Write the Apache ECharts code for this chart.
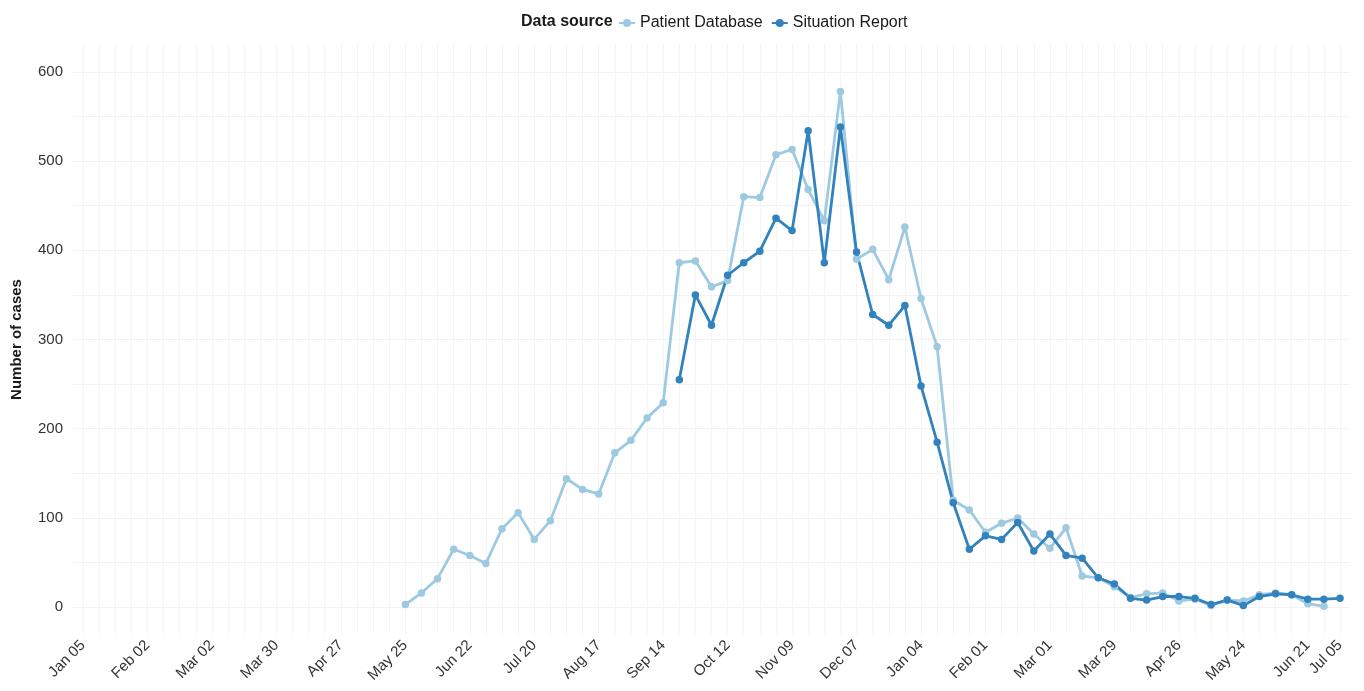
<!DOCTYPE html>
<html>
<head>
<meta charset="utf-8">
<script src="https://cdn.jsdelivr.net/npm/echarts@6/dist/echarts.min.js"></script>
<style>
html,body{margin:0;padding:0;background:#fff;}
#chart{width:1364px;height:691px;}
</style>
</head>
<body>
<div id="chart"></div>
<script>
// Weeks are counted from Sunday 2014-01-05 (week 0) to 2015-07-05 (week 78)
const weekCount = 79;
const tickWeeks = [0,4,8,12,16,20,24,28,32,36,40,44,48,52,56,60,64,68,72,76,78];
const tickLabels = ['Jan 05','Feb 02','Mar 02','Mar 30','Apr 27','May 25','Jun 22','Jul 20','Aug 17','Sep 14','Oct 12','Nov 09','Dec 07','Jan 04','Feb 01','Mar 01','Mar 29','Apr 26','May 24','Jun 21','Jul 05'];
const yTicks = [0,50,100,150,200,250,300,350,400,450,500,550,600];
const yLabels = [0,100,200,300,400,500,600];

// Patient Database: weekly counts starting at week 20 (May 25, 2014)
const patientStart = 20;
const patientDatabase = [3,16,32,65,58,49,88,106,76,97,144,132,127,173,187,212,229,
  386,388,359,366,460,459,507,513,468,433,578,390,401,367,426,346,292,
  120,109,84,94,100,82,66,89,35,33,23,11,15,16,7,9,2,8,7,14,16,14,4,1];

// Situation Report: weekly counts starting at week 37 (Sep 21, 2014)
const sitrepStart = 37;
const situationReport = [255,350,316,372,386,399,436,422,534,386,538,398,328,316,338,248,185,
  117,65,80,76,95,63,82,58,55,33,26,10,8,12,12,10,3,8,2,12,15,14,9,9,10];

const seriesNames = ['Patient Database','Situation Report'];
const seriesColors = ['#9ecae1','#3182bd'];

function toPairs(start, arr){ return arr.map((v,k)=>[start+k, v]); }
const allWeeks = []; for(let i=0;i<weekCount;i++) allWeeks.push(i);

const chart = echarts.init(document.getElementById('chart'));
const font = 'Liberation Sans, Arial, Helvetica, sans-serif';
chart.setOption({
  backgroundColor:'#ffffff',
  animation:false,
  textStyle:{fontFamily:font},
  title:{text:'Data source', left:516, top:9,
    textStyle:{fontFamily:font,fontSize:16,fontWeight:'bold',color:'#1a1a1a'}},
  legend:{left:613, top:10, itemWidth:16, itemHeight:10, itemGap:8,
    data:seriesNames,
    textStyle:{fontFamily:font,fontSize:16,color:'#1a1a1a'}},
  grid:{left:73, right:14, top:45, bottom:57},
  xAxis:{type:'value', min:-0.62, max:78.62,
    axisLine:{show:false},
    axisTick:{show:false, customValues:allWeeks},
    splitLine:{show:true, lineStyle:{color:'#f4f4f4', width:1}},
    axisLabel:{customValues:tickWeeks, rotate:45, fontSize:15, color:'#333', margin:9,
      fontFamily:font,
      formatter:function(v){ const k=tickWeeks.indexOf(Math.round(v)); return k>=0?tickLabels[k]:''; }}
  },
  yAxis:{type:'value', min:-30, max:630,
    name:'Number of cases', nameLocation:'middle', nameGap:49,
    nameTextStyle:{fontFamily:font,fontSize:15,fontWeight:'bold',color:'#1a1a1a'},
    axisLine:{show:false},
    axisTick:{show:false, customValues:yTicks},
    splitLine:{show:true, lineStyle:{color:'#f2f2f2', width:1}},
    axisLabel:{customValues:yLabels, fontSize:15, color:'#333', margin:10, fontFamily:font}
  },
  series:[
    {name:seriesNames[0], type:'line', data:toPairs(patientStart, patientDatabase),
      symbol:'circle', symbolSize:7.5, color:seriesColors[0],
      lineStyle:{width:2.8, color:seriesColors[0]}, itemStyle:{color:seriesColors[0]}},
    {name:seriesNames[1], type:'line', data:toPairs(sitrepStart, situationReport),
      symbol:'circle', symbolSize:7.5, color:seriesColors[1],
      lineStyle:{width:2.8, color:seriesColors[1]}, itemStyle:{color:seriesColors[1]}}
  ]
});
</script>
</body>
</html>
